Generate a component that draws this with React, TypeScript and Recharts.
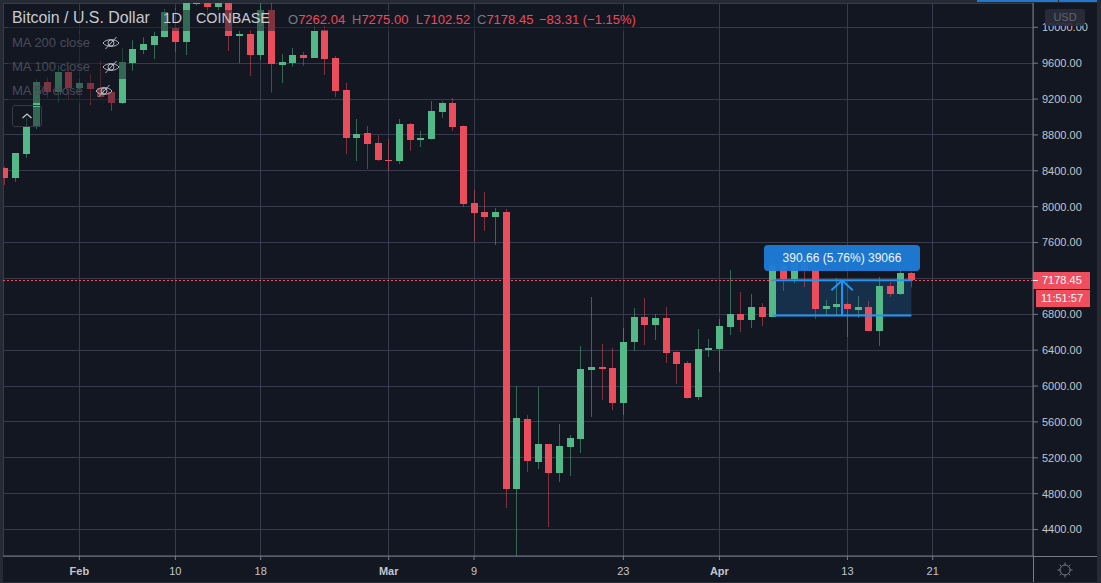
import { Bar, CartesianGrid, ComposedChart, ReferenceArea, ReferenceLine, XAxis, YAxis } from 'recharts';

const BG = '#131722';
const GRID = '#363c4e';
const AXIS = '#787b86';
const UP = '#53b987';
const DOWN = '#eb4d5c';
const BLUE = '#2196f3';
const FONT = '"Liberation Sans", Arial, sans-serif';

// one entry per day, first candle is 25 Jan
const opens = [8431,8323,8591,8892,9390,9282,9502,9323,9379,9323,9279,9156,9602,9747,9803,9892,9992,9836,10260,10340,10226,10330,9903,9925,9691,10193,9580,9599,9691,9658,9966,9658,9301,8766,8821,8710,8520,8509,8922,8743,8755,9056,9156,8900,8041,7941,7885,7941,4852,5633,5153,5354,5030,5320,5410,6179,6212,6201,5811,6491,6770,6681,6759,6380,6257,5878,6402,6413,6658,6803,6736,6881,6770,7350,7194,7372,7294,6859,6881,6915,6848,6881,6614,7116,7026,7262.04];
const highs = [8446,8598,8989,9420,9442,9580,9524,9424,9479,9624,9301,9766,9855,9889,9951,10204,10215,10380,10380,10400,10380,10380,9959,9970,10271,10271,9702,9769,9725,10018,10026,9680,9379,8978,8899,8799,8755,8978,8933,8844,9178,9178,9212,8905,8186,8164,7985,7974,6000,5677,5989,5354,5577,5454,6447,6993,6469,6424,6647,6870,6982,6803,6881,6385,6279,6636,6525,6748,7294,7049,7026,6926,7428,7428,7450,7428,7316,6959,7205,6926,7004,6948,7216,7160,7294,7275];
const lows = [8242,8278,8546,8866,9215,9159,9201,9267,9134,9212,9067,9145,9516,9702,9647,9884,9725,9691,10243,10137,10190,9736,9602,9457,9635,9271,9379,9561,9572,9658,9468,9223,8587,8509,8420,8509,8398,8476,8621,8665,8749,8989,8844,7996,7610,7729,7573,4640,3900,5042,5075,4428,4930,4997,5254,5655,5844,5733,5677,6391,6458,6513,6257,6023,5861,5844,6324,6157,6569,6603,6647,6669,6764,7060,7149,7104,6748,6792,6781,6547,6759,6608,6447,6993,7015,7102.52];
const closes = [8323,8595,8900,9390,9282,9502,9320,9379,9312,9226,9156,9613,9755,9814,9903,10167,9836,10338,10340,10226,10330,9903,9925,9691,10193,9591,9613,9691,9658,9962,9647,9290,8766,8810,8699,8520,8509,8922,8743,8766,9067,9156,8888,8030,7929,7885,7941,4852,5644,5164,5354,5030,5331,5421,6190,6212,6190,5811,6491,6770,6681,6759,6369,6246,5867,6413,6424,6670,6803,6736,6881,6770,7350,7194,7372,7294,6859,6892,6915,6859,6881,6614,7116,7026,7260,7178.45];

const priceTicks = [4400,4800,5200,5600,6000,6400,6800,7200,7600,8000,8400,8800,9200,9600,10000];
const dayTicks = [7,16,24,36,44,58,67,79,87];
const dayLabels = ['Feb','10','18','Mar','9','23','Apr','13','21'];

const lastPrice = 7178.45;
const measureLow = 6787.79;
const measureFrom = 72;
const measureTo = 85;
const measureMid = 78.5;
const arrowDrop = 111;

const data = opens.map((open, i) => ({
  day: i, open, close: closes[i], high: highs[i], low: lows[i], range: [lows[i], highs[i]],
}));

function Candle(props: any) {
  const { x, y, width, height, payload } = props;
  const { open, close, high, low } = payload;
  const color = close >= open ? UP : DOWN;
  const perUnit = height / (high - low);
  const cx = Math.round(x + width / 2 - 0.5) + 0.5;
  const top = Math.round(y + (high - Math.max(open, close)) * perUnit);
  const bottom = Math.round(y + (high - Math.min(open, close)) * perUnit);
  return (
    <g>
      <rect x={cx - 0.5} y={y} width={1} height={height} fill={color} fillOpacity={0.5} />
      <rect x={cx - 3.5} y={top} width={7} height={Math.max(bottom - top, 1)} fill={color} />
    </g>
  );
}

function DayTick(props: any) {
  const { x, y, payload } = props;
  const label = dayLabels[dayTicks.indexOf(payload.value)];
  return (
    <text x={x} y={y + 5} dy={8} textAnchor="middle" fontFamily={FONT} fontSize={11} fill="#c3c5cc"
      fontWeight={isNaN(Number(label)) ? 700 : 400}>{label}</text>
  );
}

function EyeOff({ left, top }: { left: number; top: number }) {
  return (
    <svg width={18} height={14} viewBox="0 0 18 14" style={{ position: 'absolute', left, top }}>
      <path d="M1 7 C4 2.5 14 2.5 17 7 C14 11.5 4 11.5 1 7 Z" fill="none" stroke="#b4b7bf" strokeWidth={1} />
      <circle cx={9} cy={7} r={3} fill="none" stroke="#b4b7bf" strokeWidth={1} />
      <path d="M3.5 13 L14.5 1" stroke="#b4b7bf" strokeWidth={1} />
    </svg>
  );
}

function Txt({ left, top, size, color, children }: any) {
  return (
    <span style={{ position: 'absolute', left, top, fontSize: size, color, lineHeight: '18px', whiteSpace: 'nowrap' }}>
      {children}
    </span>
  );
}

const veil = 'rgba(19,23,34,0.5)';
function Veil({ left, top, width, height }: any) {
  return <div style={{ position: 'absolute', left, top, width, height, background: veil }} />;
}

export default function App() {
  return (
    <div style={{ position: 'absolute', left: 0, top: 0, width: 1101, height: 583, background: BG, overflow: 'hidden', fontFamily: FONT }}>
      <ComposedChart width={1101} height={583} data={data} margin={{ top: 3, right: 0, bottom: 0, left: 3 }}>
        <CartesianGrid stroke={GRID} shapeRendering="crispEdges" />
        <XAxis dataKey="day" type="number" domain={[-0.16, 96.4]} allowDataOverflow ticks={dayTicks} interval={0}
          height={27} stroke={AXIS} tickSize={4} tick={<DayTick />} />
        <YAxis orientation="right" type="number" domain={[4105, 10271]} allowDataOverflow ticks={priceTicks} interval={0}
          width={68} stroke={AXIS} tickSize={5} tickMargin={4} tickFormatter={(v: number) => v.toFixed(2)}
          tick={{ fontSize: 11, fontFamily: FONT, fill: '#c3c5cc' }} />
        <Bar dataKey="range" barSize={7} shape={<Candle />} isAnimationActive={false} />
        <ReferenceLine y={lastPrice} stroke="#f5475b" strokeDasharray="2 2" shapeRendering="crispEdges" />
        <ReferenceArea x1={measureFrom} x2={measureTo} y1={measureLow} y2={lastPrice} fill={BLUE} fillOpacity={0.2} stroke="none" />
        <ReferenceLine segment={[{ x: measureFrom, y: lastPrice }, { x: measureTo, y: lastPrice }]} stroke={BLUE} strokeWidth={2} />
        <ReferenceLine segment={[{ x: measureFrom, y: measureLow }, { x: measureTo, y: measureLow }]} stroke={BLUE} strokeWidth={2} />
        <ReferenceLine segment={[{ x: measureMid, y: measureLow }, { x: measureMid, y: lastPrice }]} stroke={BLUE} strokeWidth={2} />
        <ReferenceLine segment={[{ x: measureMid - 1, y: lastPrice - arrowDrop }, { x: measureMid, y: lastPrice }]} stroke={BLUE} strokeWidth={2} />
        <ReferenceLine segment={[{ x: measureMid, y: lastPrice }, { x: measureMid + 1, y: lastPrice - arrowDrop }]} stroke={BLUE} strokeWidth={2} />
      </ComposedChart>

      {/* window edges */}
      <div style={{ position: 'absolute', left: 0, top: 0, width: 1101, height: 3, background: '#262a35' }} />
      <div style={{ position: 'absolute', left: 0, top: 0, width: 3, height: 583, background: '#262a35' }} />
      <div style={{ position: 'absolute', left: 1097, top: 0, width: 4, height: 583, background: '#262a35' }} />
      <div style={{ position: 'absolute', left: 0, top: 582, width: 1101, height: 1, background: '#262a35' }} />
      <div style={{ position: 'absolute', left: 977, top: 0, width: 81, height: 2, background: '#1e78d0' }} />
      <div style={{ position: 'absolute', left: 1059, top: 0, width: 38, height: 2, background: '#1e78d0' }} />
      <div style={{ position: 'absolute', left: 1033, top: 556, width: 64, height: 1, background: AXIS }} />
      <div style={{ position: 'absolute', left: 1033, top: 556, width: 1, height: 26, background: AXIS }} />

      {/* legend */}
      <Veil left={8} top={10} width={632} height={21} />
      <Veil left={8} top={33} width={120} height={46} />
      <Veil left={8} top={79} width={110} height={24} />
      <Veil left={12} top={107} width={29} height={19} />
      <Txt left={12} top={9} size={15.9} color="#c8cad1">Bitcoin / U.S. Dollar</Txt>
      <Txt left={163} top={9} size={15} color="#c8cad1">1D</Txt>
      <Txt left={196} top={9} size={14.3} color="#c8cad1">COINBASE</Txt>
      <Txt left={288} top={11} size={13} color="#f0495b"><span style={{ color: '#787b86' }}>O</span>7262.04</Txt>
      <Txt left={352} top={11} size={13} color="#f0495b"><span style={{ color: '#787b86' }}>H</span>7275.00</Txt>
      <Txt left={416} top={11} size={13} color="#f0495b"><span style={{ color: '#787b86' }}>L</span>7102.52</Txt>
      <Txt left={477} top={11} size={13} color="#f0495b"><span style={{ color: '#787b86' }}>C</span>7178.45</Txt>
      <Txt left={539} top={11} size={13} color="#f0495b">−83.31 (−1.15%)</Txt>
      <Txt left={12} top={34} size={13} color="#484c59">MA 200 close</Txt>
      <Txt left={12} top={58} size={13} color="#484c59">MA 100 close</Txt>
      <Txt left={12} top={82} size={13} color="#484c59">MA 50 close</Txt>
      <EyeOff left={102} top={36} />
      <EyeOff left={102} top={60} />
      <EyeOff left={95} top={84} />
      <div style={{ position: 'absolute', left: 12, top: 105, width: 28, height: 20, border: '1px solid #363a45', borderRadius: 3 }} />
      <svg width={12} height={8} style={{ position: 'absolute', left: 21, top: 112 }}>
        <path d="M1.5 6 L6 2 L10.5 6" fill="none" stroke="#c3c5cc" strokeWidth={1.3} />
      </svg>

      {/* measuring label */}
      <div style={{ position: 'absolute', left: 764, top: 245, width: 156, height: 26, lineHeight: '26px', borderRadius: 4, background: 'rgba(30,124,214,0.96)', color: '#f0f3fa', fontSize: 12, textAlign: 'center' }}>
        390.66 (5.76%) 39066
      </div>

      {/* price scale labels */}
      <div style={{ position: 'absolute', left: 1045, top: 9, width: 40, height: 17, lineHeight: '17px', borderRadius: 3, background: 'rgba(42,46,57,0.92)', color: '#5f636f', fontSize: 11, textAlign: 'center' }}>USD</div>
      <div style={{ position: 'absolute', left: 1033, top: 272, width: 57, height: 17, lineHeight: '17px', background: '#ef4e5f', color: '#fff', fontSize: 11, paddingLeft: 9, boxSizing: 'border-box' }}>7178.45</div>
      <div style={{ position: 'absolute', left: 1033, top: 280, width: 5, height: 1, background: '#fff' }} />
      <div style={{ position: 'absolute', left: 1036, top: 290, width: 54, height: 17, lineHeight: '17px', background: '#ef4e5f', color: '#fff', fontSize: 11, paddingLeft: 5, boxSizing: 'border-box' }}>11:51:57</div>

      {/* settings gear */}
      <svg width={16} height={16} viewBox="0 0 16 16" style={{ position: 'absolute', left: 1057, top: 562 }}>
        <circle cx={8} cy={8} r={5} fill="none" stroke="#787b86" strokeWidth={1} />
        <path d="M8 0.5V3M8 13V15.5M0.5 8H3M13 8H15.5M2.7 2.7L4.4 4.4M11.6 11.6L13.3 13.3M13.3 2.7L11.6 4.4M4.4 11.6L2.7 13.3" stroke="#787b86" strokeWidth={1} />
      </svg>
    </div>
  );
}
